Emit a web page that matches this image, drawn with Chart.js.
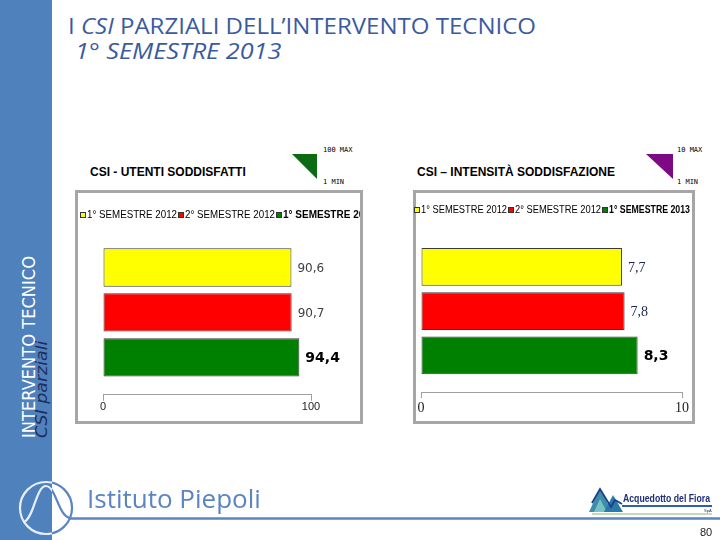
<!DOCTYPE html>
<html>
<head>
<meta charset="utf-8">
<script src="https://cdn.jsdelivr.net/npm/chart.js@4.4.1/dist/chart.umd.min.js"></script>
<style>
html, body { margin: 0; padding: 0; background: #fff; }
#page { position: relative; width: 720px; height: 540px; overflow: hidden; font-family: "Liberation Sans", Arial, sans-serif; }
.abs { position: absolute; }
#sidebar { left: 0; top: 0; width: 52px; height: 540px; background: #4f81bd; }
.side { white-space: nowrap; transform: rotate(-90deg); transform-origin: left top; line-height: 16px; font-family: "DejaVu Sans", sans-serif; }
.titolo { white-space: nowrap; color: #3a5ba0; font-family: "Open Sans", sans-serif; transform-origin: left top; }
.pannello { border: 3px solid #a6a6a6; box-sizing: border-box; background: #fff; }
.intest { font-weight: bold; font-size: 12px; white-space: nowrap; color: #000; }
.mini { font-family: "DejaVu Sans Mono", monospace; font-size: 7px; color: #000; white-space: nowrap; }
canvas { position: absolute; }
</style>
</head>
<body>
<div id="page">
  <div id="sidebar" class="abs"></div>
  <div id="s1" class="abs side" style="left:21px; top:438px; color:#fff; font-size:17px;">INTERVENTO TECNICO</div>
  <div id="s2" class="abs side" style="left:34px; top:438px; color:#1f2d5c; font-style:italic; font-size:16.5px;">CSI parziali</div>

  <div id="t1" class="abs titolo" style="left:68px; top:12px; font-size:21px;">I <i>CSI</i> PARZIALI DELL’INTERVENTO TECNICO</div>
  <div id="t2" class="abs titolo" style="left:75px; top:37px; font-size:21px; font-style:italic;">1° SEMESTRE 2013</div>

  <div class="abs intest" style="left:90px; top:165px;">CSI - UTENTI SODDISFATTI</div>
  <div class="abs intest" style="left:417px; top:165px;">CSI – INTENSITÀ SODDISFAZIONE</div>

  <svg class="abs" style="left:0; top:0;" width="720" height="540">
    <polygon points="292,154 317,154 317,179" fill="#0b6b12"/>
    <polygon points="646,154 673,154 673,179" fill="#7d0a82"/>
  </svg>
  <div class="abs mini" style="left:323px; top:146px;">100 MAX</div>
  <div class="abs mini" style="left:323px; top:178px;">1 MIN</div>
  <div class="abs mini" style="left:677px; top:146px;">10 MAX</div>
  <div class="abs mini" style="left:677px; top:178px;">1 MIN</div>

  <div class="abs pannello" style="left:75px; top:190px; width:288px; height:234px;"></div>
  <div class="abs pannello" style="left:413px; top:190px; width:282px; height:234px;"></div>
  <canvas id="chartUtenti" style="left:78px; top:193px;" width="282" height="228"></canvas>
  <canvas id="chartIntensita" style="left:414px; top:193px;" width="278" height="228"></canvas>

  <!-- piede di pagina -->
  <svg class="abs" style="left:0; top:0;" width="720" height="540">
    <defs>
      <clipPath id="cBlu"><rect x="0" y="0" width="52" height="540"/></clipPath>
      <clipPath id="cBianco"><rect x="52" y="0" width="700" height="540"/></clipPath>
    </defs>
    <g fill="none" stroke-width="2.2">
      <g clip-path="url(#cBlu)" stroke="#e8eef8">
        <circle cx="46" cy="508" r="26"/>
        <path d="M24 522 C34 518 36 486 46 486 C56 486 58 516 70 518"/>
      </g>
      <g clip-path="url(#cBianco)" stroke="#5b84c4">
        <circle cx="46" cy="508" r="26"/>
        <path d="M24 522 C34 518 36 486 46 486 C56 486 58 516 70 518"/>
      </g>
    </g>
    <line x1="70" y1="518.5" x2="720" y2="518.5" stroke="#5b84c4" stroke-width="2.5"/>
    <text x="87" y="508" font-family="Open Sans" font-size="26" fill="#5b84c4">Istituto Piepoli</text>
    <polygon points="589,512 600,488 612,512" fill="#3d8fa8"/>
    <polygon points="594,512 600,499 607,512" fill="#79c0c8"/>
    <polygon points="604,512 613,495 623,512" fill="#2a7aa8"/>
    <polyline points="592,503 600,489 611,507 615,500 622,504" fill="none" stroke="#1d3f8a" stroke-width="1.8"/>
    <text x="623" y="502" font-family="Liberation Sans" font-weight="bold" font-size="10.5" fill="#1d2f78" textLength="87" lengthAdjust="spacingAndGlyphs">Acquedotto del Fiora</text>
    <line x1="622" y1="506" x2="712" y2="506" stroke="#2d5fb0" stroke-width="2"/>
    <line x1="592" y1="514" x2="712" y2="514" stroke="#8fb07a" stroke-width="1"/>
    <text x="704" y="512" font-family="Liberation Sans" font-size="4" fill="#1d2f78">SpA</text>
    <text x="700" y="536" font-family="Liberation Sans" font-size="11" fill="#222">80</text>
  </svg>
</div>

<script>
// serie e valori
const semestri = ['1° SEMESTRE 2012', '2° SEMESTRE 2012', '1° SEMESTRE 2013'];
const coloriSerie = ['#ffff00', '#ff0000', '#008000'];
const utentiSoddisfatti = [90.6, 90.7, 94.4];
const intensitaSoddisfazione = [7.7, 7.8, 8.3];
const ticksUtenti = [0, 100];
const ticksIntensita = [0, 10];

// adatta la larghezza dei testi a quella del riferimento
function adattaLarghezza(id, larghezza, verticale) {
    const el = document.getElementById(id);
    const w = el.offsetWidth;
    const k = larghezza / w;
    el.style.transform = verticale ? 'rotate(-90deg) scaleX(' + k + ')' : 'scaleX(' + k + ')';
}
adattaLarghezza('t1', 468);
adattaLarghezza('t2', 207);
adattaLarghezza('s1', 182, true);
adattaLarghezza('s2', 97, true);

function formatta(v) {
    return v.toFixed(1).replace('.', ',');
}

// legenda disegnata a mano (l'ultima voce è in grassetto)
const legendaSemestri = {
    id: 'legendaSemestri',
    afterDraw(chart, args, opts) {
        const ctx = chart.ctx;
        let x = opts.x;
        const y = opts.y;
        ctx.save();
        ctx.textBaseline = 'middle';
        chart.data.datasets.forEach((ds, i) => {
            const bold = i === chart.data.datasets.length - 1;
            ctx.fillStyle = ds.backgroundColor;
            ctx.fillRect(x, y - 3, 6, 6);
            ctx.strokeStyle = '#333';
            ctx.lineWidth = 1;
            ctx.strokeRect(x + 0.5, y - 2.5, 5, 5);
            x += 7;
            ctx.font = (bold ? 'bold ' : '') + opts.size + 'px "Liberation Sans"';
            ctx.fillStyle = '#000';
            const maxW = bold ? opts.maxBold : opts.maxNormale;
            ctx.fillText(ds.label, x, y, maxW);
            x += Math.min(ctx.measureText(ds.label).width, maxW) + 1;
        });
        ctx.restore();
    }
};

// etichette dei valori a destra delle barre
const etichetteValori = {
    id: 'etichetteValori',
    afterDatasetsDraw(chart, args, opts) {
        const ctx = chart.ctx;
        ctx.save();
        ctx.textBaseline = 'middle';
        ctx.textAlign = 'left';
        chart.data.datasets.forEach((ds, i) => {
            const bar = chart.getDatasetMeta(i).data[0];
            const st = opts.stili[i];
            ctx.font = st.font;
            ctx.fillStyle = st.color;
            ctx.fillText(formatta(ds.data[0]), bar.x + opts.offset, bar.y + 1);
        });
        ctx.restore();
    }
};

function creaGrafico(canvasId, valori, tickValori, cfg) {
    const datasets = semestri.map((s, i) => ({
        label: s,
        data: [valori[i]],
        backgroundColor: coloriSerie[i],
        borderColor: '#3a3a3a',
        borderWidth: 1,
        borderSkipped: false,
        categoryPercentage: 0.818,
        barPercentage: 0.855
    }));
    return new Chart(document.getElementById(canvasId), {
        type: 'bar',
        data: { labels: [''], datasets: datasets },
        plugins: [legendaSemestri, etichetteValori],
        options: {
            indexAxis: 'y',
            responsive: false,
            animation: false,
            layout: { padding: cfg.padding },
            plugins: {
                legend: { display: false },
                tooltip: { enabled: false },
                legendaSemestri: cfg.legenda,
                etichetteValori: cfg.etichette
            },
            scales: {
                x: {
                    min: tickValori[0],
                    max: tickValori[tickValori.length - 1],
                    afterBuildTicks: (scale) => {
                        scale.ticks = tickValori.map(v => ({ value: v }));
                    },
                    grid: { display: true, drawOnChartArea: false, drawTicks: true, tickLength: 6, color: '#a0a0a0' },
                    border: { display: true, color: '#a0a0a0', width: 1 },
                    ticks: { font: cfg.fontTick, color: '#222', padding: cfg.tickPadding, maxRotation: 0 }
                },
                y: { display: false }
            }
        }
    });
}

creaGrafico('chartUtenti', utentiSoddisfatti, ticksUtenti, {
    padding: { left: 25, right: 49, top: 37, bottom: 7 },
    fontTick: { family: 'Liberation Sans', size: 11 },
    tickPadding: 0,
    legenda: { x: 2, y: 22, size: 10, maxNormale: 90, maxBold: 100 },
    etichette: {
        offset: 6,
        stili: [
            { font: '12px "DejaVu Sans"', color: '#404040' },
            { font: '12px "DejaVu Sans"', color: '#404040' },
            { font: 'bold 14px "DejaVu Sans"', color: '#000' }
        ]
    }
});

creaGrafico('chartIntensita', intensitaSoddisfazione, ticksIntensita, {
    padding: { left: 7, right: 10, top: 37, bottom: 2 },
    fontTick: { family: 'Liberation Serif', size: 14 },
    tickPadding: 2,
    legenda: { x: 0, y: 17, size: 10, maxNormale: 86, maxBold: 81 },
    etichette: {
        offset: 6,
        stili: [
            { font: '14px "Liberation Serif"', color: '#1c2452' },
            { font: '14px "Liberation Serif"', color: '#1c2452' },
            { font: 'bold 14px "DejaVu Sans"', color: '#000' }
        ]
    }
});
</script>
</body>
</html>
